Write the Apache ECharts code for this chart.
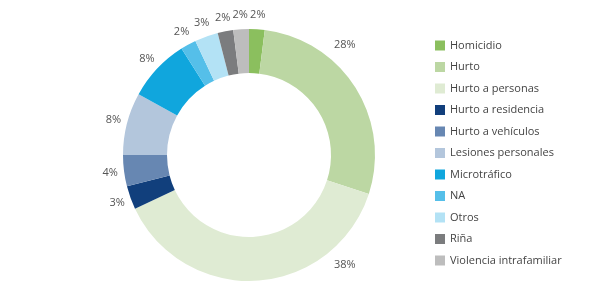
<!DOCTYPE html>
<html>
<head>
<meta charset="utf-8">
<script src="https://cdn.jsdelivr.net/npm/echarts@6/dist/echarts.min.js"></script>
<style>
  html, body { margin: 0; padding: 0; background: #fff; }
  #main { width: 590px; height: 293px; }
</style>
</head>
<body>
<div id="main"></div>
<script>
var categories = ['Homicidio', 'Hurto', 'Hurto a personas', 'Hurto a residencia', 'Hurto a vehículos',
    'Lesiones personales', 'Microtráfico', 'NA', 'Otros', 'Riña', 'Violencia intrafamiliar'];
var percents = [2, 28, 38, 3, 4, 8, 8, 2, 3, 2, 2];
var colors = ['#8bbf5e', '#bcd7a3', '#dfebd3', '#113f7c', '#6787b2', '#b3c6dc',
    '#10a6dd', '#55bfe9', '#b3e2f5', '#7b7c7e', '#bdbdbd'];

var cx = 249, cy = 155, rOuter = 126, rInner = 82;
var labelR = 140;
// the two big labels sit off their slice midpoint (moved by hand in the original)
var labelShift = { 1: { angle: 41, r: 146 }, 2: { angle: 139, r: 146 } };

var total = percents.reduce(function (a, b) { return a + b; }, 0);
var midAngles = [];
var acc = 0;
percents.forEach(function (v) {
    midAngles.push((acc + v / 2) / total * 360);
    acc += v;
});

var chart = echarts.init(document.getElementById('main'));
var seriesData = categories.map(function (name, i) {
    return { name: name, value: percents[i], itemStyle: { color: colors[i] } };
});

var option = {
    animation: false,
    textStyle: { fontFamily: 'Open Sans' },
    legend: {
        orient: 'vertical',
        left: 430,
        top: 35,
        itemWidth: 10,
        itemHeight: 10,
        itemGap: 10.5,
        icon: 'rect',
        data: categories,
        textStyle: { fontSize: 11, color: '#444', fontFamily: 'Open Sans' }
    },
    series: [{
        type: 'pie',
        center: [cx, cy],
        radius: [rInner, rOuter],
        startAngle: 90,
        clockwise: true,
        avoidLabelOverlap: false,
        data: seriesData,
        label: {
            show: true,
            position: 'outside',
            formatter: '{c}%',
            fontSize: 11,
            color: '#555',
            fontFamily: 'Open Sans'
        },
        labelLine: { show: false },
        labelLayout: function (params) {
            var i = params.dataIndex;
            var s = labelShift[i];
            var a = (s ? s.angle : midAngles[i]) * Math.PI / 180;
            var r = s ? s.r : labelR;
            return {
                x: cx + r * Math.sin(a),
                y: cy - r * Math.cos(a),
                align: 'center',
                verticalAlign: 'middle'
            };
        },
        itemStyle: { borderWidth: 0 }
    }]
};
chart.setOption(option);
</script>
</body>
</html>
